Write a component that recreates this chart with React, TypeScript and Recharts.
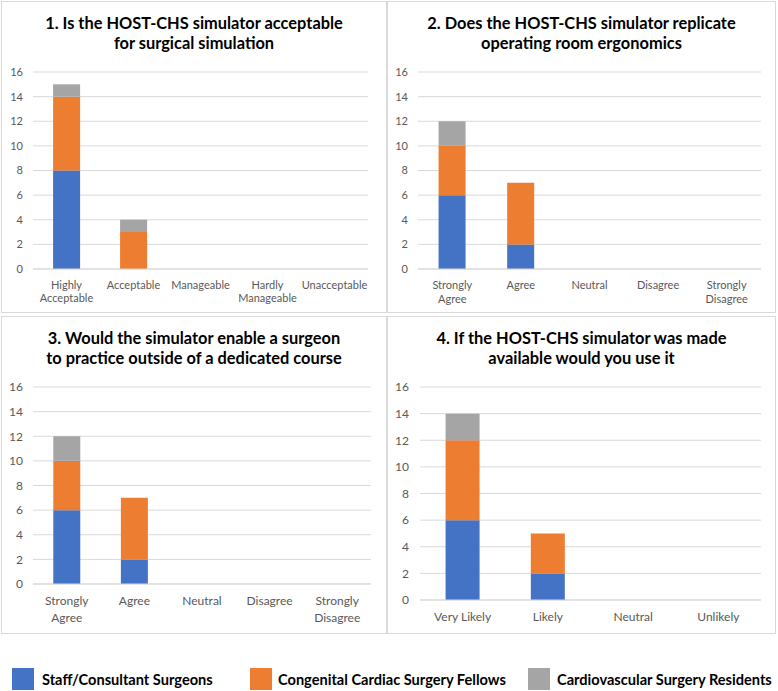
import { BarChart, Bar, XAxis, YAxis, CartesianGrid } from "recharts";

const FONT = "Lato, 'Noto Sans', sans-serif";

// series
const seriesNames = ["Staff/Consultant Surgeons", "Congenital Cardiac Surgery Fellows", "Cardiovascular Surgery Residents"];
const seriesKeys = ["staff", "fellows", "residents"];
const seriesColors = ["#4472C4", "#ED7D31", "#A5A5A5"];

const yTicks = [0, 2, 4, 6, 8, 10, 12, 14, 16];

// Q1
const q1Title = ["1. Is the HOST-CHS simulator acceptable", "for surgical simulation"];
const q1Categories = ["Highly\nAcceptable", "Acceptable", "Manageable", "Hardly\nManageable", "Unacceptable"];
const q1Staff = [8, 0, 0, 0, 0];
const q1Fellows = [6, 3, 0, 0, 0];
const q1Residents = [1, 1, 0, 0, 0];

// Q2
const q2Title = ["2. Does the HOST-CHS simulator replicate", "operating room ergonomics"];
const q2Categories = ["Strongly\nAgree", "Agree", "Neutral", "Disagree", "Strongly\nDisagree"];
const q2Staff = [6, 2, 0, 0, 0];
const q2Fellows = [4, 5, 0, 0, 0];
const q2Residents = [2, 0, 0, 0, 0];

// Q3
const q3Title = ["3. Would the simulator enable a surgeon", "to practice outside of a dedicated course"];
const q3Categories = ["Strongly\nAgree", "Agree", "Neutral", "Disagree", "Strongly\nDisagree"];
const q3Staff = [6, 2, 0, 0, 0];
const q3Fellows = [4, 5, 0, 0, 0];
const q3Residents = [2, 0, 0, 0, 0];

// Q4
const q4Title = ["4. If the HOST-CHS simulator was made", "available would you use it"];
const q4Categories = ["Very Likely", "Likely", "Neutral", "Unlikely"];
const q4Staff = [6, 2, 0, 0];
const q4Fellows = [6, 3, 0, 0];
const q4Residents = [2, 0, 0, 0];

const build = (cats: string[], staff: number[], fellows: number[], residents: number[]) =>
  cats.map((c, i) => ({ name: c, staff: staff[i], fellows: fellows[i], residents: residents[i] }));

const MultiLineTick = ({ x, y, payload, fontSize, lineHeight }: any) => {
  const lines = String(payload.value).split("\n");
  return (
    <text x={x} y={y} textAnchor="middle" fill="#595959" fontSize={fontSize} fontFamily={FONT}>
      {lines.map((l, i) => (
        <tspan key={i} x={x} dy={i === 0 ? fontSize * 0.75 + 4 : lineHeight}>{l}</tspan>
      ))}
    </text>
  );
};

interface PanelProps {
  title: string[];
  data: any[];
  box: { x: number; y: number; w: number; h: number };
  titleTop: number;
  chartTop: number;
  yWidth: number;
  margin: { top: number; right: number; bottom: number; left: number };
  xHeight: number;
  fontSize: number;
  lineHeight: number;
  tickMargin: number;
}

function Panel({ title, data, box, titleTop, chartTop, yWidth, margin, xHeight, fontSize, lineHeight, tickMargin }: PanelProps) {
  return (
    <>
      <div style={{
        position: "absolute", left: box.x, top: box.y, width: box.w, height: box.h,
        boxSizing: "border-box", border: "1px solid #d9d9d9",
      }} />
      <div style={{
        position: "absolute", left: box.x, top: titleTop, width: box.w, textAlign: "center",
        fontFamily: FONT, fontWeight: 700, fontSize: 16.4, lineHeight: "20px", color: "#000",
      }}>
        {title.map((t, i) => <div key={i}>{t}</div>)}
      </div>
      <div style={{ position: "absolute", left: box.x, top: chartTop }}>
        <BarChart
          width={box.w}
          height={box.y + box.h - chartTop}
          data={data}
          margin={margin}
          barCategoryGap="30%"
        >
          <CartesianGrid vertical={false} stroke="#d9d9d9" />
          <XAxis
            dataKey="name"
            axisLine={{ stroke: "#d9d9d9" }}
            tickLine={false}
            height={xHeight}
            interval={0}
            tick={<MultiLineTick fontSize={fontSize} lineHeight={lineHeight} />}
          />
          <YAxis
            width={yWidth}
            domain={[0, 16]}
            ticks={yTicks}
            axisLine={false}
            tickLine={false}
            tickMargin={tickMargin}
            tick={{ fill: "#595959", fontSize, fontFamily: FONT }}
          />
          {seriesKeys.map((k, i) => (
            <Bar key={k} dataKey={k} stackId="a" fill={seriesColors[i]} isAnimationActive={false} />
          ))}
        </BarChart>
      </div>
    </>
  );
}

const legendPos = [
  { sx: 12, tx: 42 },
  { sx: 250, tx: 278 },
  { sx: 528, tx: 557 },
];

export default function App() {
  return (
    <div style={{ position: "absolute", left: 0, top: 0, width: 778, height: 691, background: "#fff" }}>
      <Panel
        title={q1Title}
        data={build(q1Categories, q1Staff, q1Fellows, q1Residents)}
        box={{ x: 1, y: 1, w: 386, h: 312 }}
        titleTop={13}
        chartTop={60}
        yWidth={32}
        margin={{ top: 12, right: 19, bottom: 0, left: 0 }}
        xHeight={44}
        fontSize={11}
        lineHeight={13}
        tickMargin={4}
      />
      <Panel
        title={q2Title}
        data={build(q2Categories, q2Staff, q2Fellows, q2Residents)}
        box={{ x: 387, y: 1, w: 389, h: 312 }}
        titleTop={13}
        chartTop={60}
        yWidth={31}
        margin={{ top: 12, right: 15, bottom: 0, left: 0 }}
        xHeight={44}
        fontSize={11}
        lineHeight={14}
        tickMargin={4}
      />
      <Panel
        title={q3Title}
        data={build(q3Categories, q3Staff, q3Fellows, q3Residents)}
        box={{ x: 1, y: 316, w: 386, h: 318 }}
        titleTop={328}
        chartTop={375}
        yWidth={32}
        margin={{ top: 12, right: 16, bottom: 0, left: 0 }}
        xHeight={50}
        fontSize={12}
        lineHeight={17}
        tickMargin={4}
      />
      <Panel
        title={q4Title}
        data={build(q4Categories, q4Staff, q4Fellows, q4Residents)}
        box={{ x: 387, y: 316, w: 389, h: 318 }}
        titleTop={328}
        chartTop={375}
        yWidth={33}
        margin={{ top: 12, right: 15, bottom: 0, left: 0 }}
        xHeight={34}
        fontSize={12}
        lineHeight={17}
        tickMargin={5}
      />
      {/* legend */}
      {seriesNames.map((n, i) => (
        <div key={n}>
          <div style={{
            position: "absolute", left: legendPos[i].sx, top: 668, width: 22, height: 22,
            background: seriesColors[i],
          }} />
          <div style={{
            position: "absolute", left: legendPos[i].tx, top: 670, fontFamily: FONT, fontWeight: 700,
            fontSize: 14.6, lineHeight: "20px", color: "#000", whiteSpace: "nowrap",
          }}>{n}</div>
        </div>
      ))}
    </div>
  );
}
